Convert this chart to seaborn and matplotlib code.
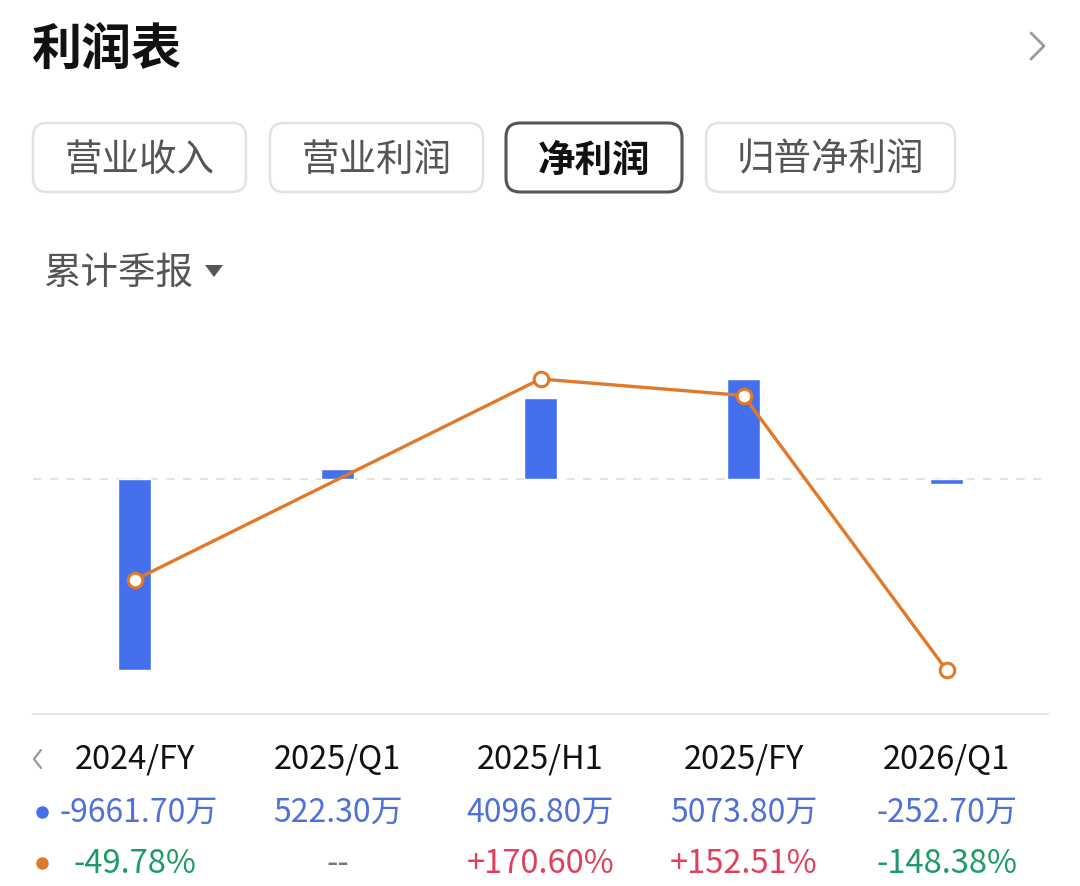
import numpy as np
import pandas as pd
import matplotlib
matplotlib.use("Agg")
import matplotlib.pyplot as plt
from matplotlib.patches import FancyBboxPatch, Polygon
import seaborn as sns

sns.set_theme(style="white")
plt.rcParams['font.family'] = ['Noto Sans CJK SC', 'DejaVu Sans']

# ---------------- data ----------------
periods = ["2024/FY", "2025/Q1", "2025/H1", "2025/FY", "2026/Q1"]
net_profit = [-9661.70, 522.30, 4096.80, 5073.80, -252.70]          # 万
growth = [-49.78, np.nan, 170.60, 152.51, -148.38]                  # %
value_labels = ["-9661.70万", "522.30万", "4096.80万", "5073.80万", "-252.70万"]
growth_labels = ["-49.78%", "--", "+170.60%", "+152.51%", "-148.38%"]
tabs = ["营业收入", "营业利润", "净利润", "归普净利润"]
title = "利润表"
period_mode = "累计季报"

BAR_C = "#4470EE"
LINE_C = "#E07A2A"
VAL_C = "#4F6FD9"
RED_C = "#E0405C"
GREEN_C = "#1E9A68"
GRAY_T = "#555555"

W, H = 1080, 887
fig = plt.figure(figsize=(W / 100, H / 100), dpi=100)
fig.patch.set_facecolor("white")

# overlay axes in pixel units
ov = fig.add_axes([0, 0, 1, 1])
ov.set_xlim(0, W)
ov.set_ylim(H, 0)
ov.axis("off")

# title
ov.text(32, 50, title, fontsize=36, fontweight="bold", color="#111111",
        va="center", ha="left")
# chevron
ov.plot([1031, 1044, 1031], [34, 47, 60], color="#9a9a9a", lw=2.0,
        solid_capstyle="round", solid_joinstyle="round")

# tabs
tab_boxes = [(33, 246), (270, 483), (506, 682), (706, 955)]
for i, (name, (x0, x1)) in enumerate(zip(tabs, tab_boxes)):
    sel = name == "净利润"
    ov.add_patch(FancyBboxPatch((x0, 124), x1 - x0, 69,
                                boxstyle="round,pad=0,rounding_size=14",
                                fc="white", ec="#555555" if sel else "#e2e2e2",
                                lw=2.2 if sel else 1.8))
    ov.text((x0 + x1) / 2, 160, name, fontsize=27,
            fontweight="bold" if sel else "normal",
            color="#111111" if sel else GRAY_T, ha="center", va="center")

# period selector
ov.text(43, 273, period_mode, fontsize=27, color=GRAY_T, ha="left", va="center")
ov.add_patch(Polygon([[205, 266], [223, 266], [214, 278]], closed=True,
                     fc=GRAY_T, ec="none"))

# ---------------- chart ----------------
top_px, bot_px = 330, 715
ax = fig.add_axes([33 / W, 1 - bot_px / H, 1015 / W, (bot_px - top_px) / H])
ax.set_facecolor("none")

def lims(vals):
    v = np.array(vals, dtype=float)
    lo, hi = np.nanmin(v), np.nanmax(v)
    s = (hi - lo) / (671 - 380)
    return lo - (bot_px - 671) * s, hi + (380 - top_px) * s

df = pd.DataFrame({"period": periods, "profit": net_profit, "growth": growth})
sns.barplot(data=df, x="period", y="profit", color=BAR_C, width=0.16,
            saturation=1, ax=ax, zorder=2)
ax.set_xlim(-0.5, len(periods) - 0.5)
ax.set_ylim(*lims(net_profit))
ax.axhline(0, color="#dddddd", lw=1.2, ls=(0, (5, 5)), zorder=1)
for s in ["top", "left", "right"]:
    ax.spines[s].set_visible(False)
ax.spines["bottom"].set_color("#e6e6e6")
ax.spines["bottom"].set_linewidth(1.5)
ax.set_xticks([])
ax.set_yticks([])
ax.set_xlabel("")
ax.set_ylabel("")

ax2 = ax.twinx()
ldf = df.dropna(subset=["growth"]).copy()
ldf["pos"] = [periods.index(p) for p in ldf["period"]]
sns.lineplot(data=ldf, x="pos", y="growth", color=LINE_C, lw=2.4,
             marker="o", markersize=10.5, markerfacecolor="white",
             markeredgecolor=LINE_C, markeredgewidth=2.2, ax=ax2, zorder=3)
ax2.set_xlim(-0.5, len(periods) - 0.5)
ax2.set_ylim(*lims(growth))
ax2.axis("off")

# ---------------- bottom table ----------------
centers = [33 + 1015 / len(periods) * (i + 0.5) for i in range(len(periods))]
ov.plot([41, 34, 41], [751, 760, 769], color="#9a9a9a", lw=1.6)
ov.plot([42], [813], marker="o", markersize=9, color=BAR_C, mec="none")
ov.plot([42], [864], marker="o", markersize=9, color=LINE_C, mec="none")
for i, c in enumerate(centers):
    dx = 4 if i == 0 else 0
    ov.text(c, 760, periods[i], fontsize=23.5, color="#111111", ha="center", va="center")
    ov.text(c + dx, 813, value_labels[i], fontsize=23, color=VAL_C, ha="center", va="center")
    g = growth[i]
    col = "#777777" if np.isnan(g) else (RED_C if g > 0 else GREEN_C)
    ov.text(c, 864, growth_labels[i], fontsize=23.5, color=col, ha="center", va="center")

fig.savefig("out.png", dpi=100, facecolor="white")
